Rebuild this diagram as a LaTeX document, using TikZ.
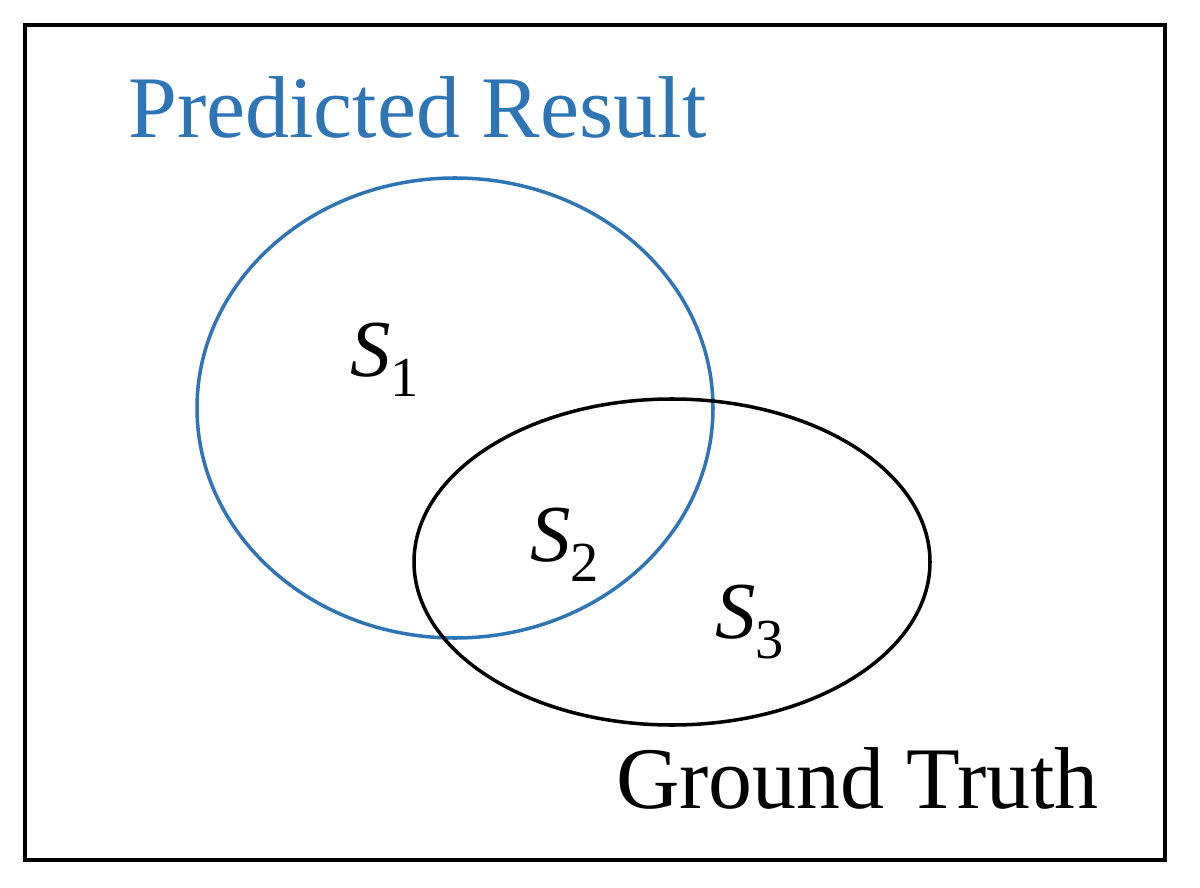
\documentclass[tikz,border=0pt]{standalone}
\usepackage{fontspec}
\setmainfont{Liberation Serif}
\usepackage{unicode-math}
\setmathfont{Latin Modern Math}
\setmathfont[range=it]{Liberation Serif Italic}
\setmathfont[range=up]{Liberation Serif}
\definecolor{predblue}{RGB}{46,117,182}
\begin{document}
\begin{tikzpicture}[x=0.02cm,y=-0.02cm,
  lab/.style={font=\fontsize{50}{54}\selectfont},
  set/.style={font=\fontsize{46}{50}\selectfont}]
\useasboundingbox (0,0) rectangle (1200,888);
\draw[line width=2.2pt] (25,25) rectangle (1165,860);
\draw[predblue,line width=2pt] (455,408) ellipse [x radius=258, y radius=230];
\draw[black,line width=2pt] (672,562) ellipse [x radius=258, y radius=163];
\node[lab,text=predblue,anchor=base west] (pr) at (122,138) {Predicted Result};
\node[lab,anchor=base west] (gt) at (610,808) {Ground Truth};
\node[set] (s1) at (385,360) {$S_1$};
\node[set] (s2) at (565,545) {$S_2$};
\node[set] (s3) at (750,622) {$S_3$};
\end{tikzpicture}
\end{document}
